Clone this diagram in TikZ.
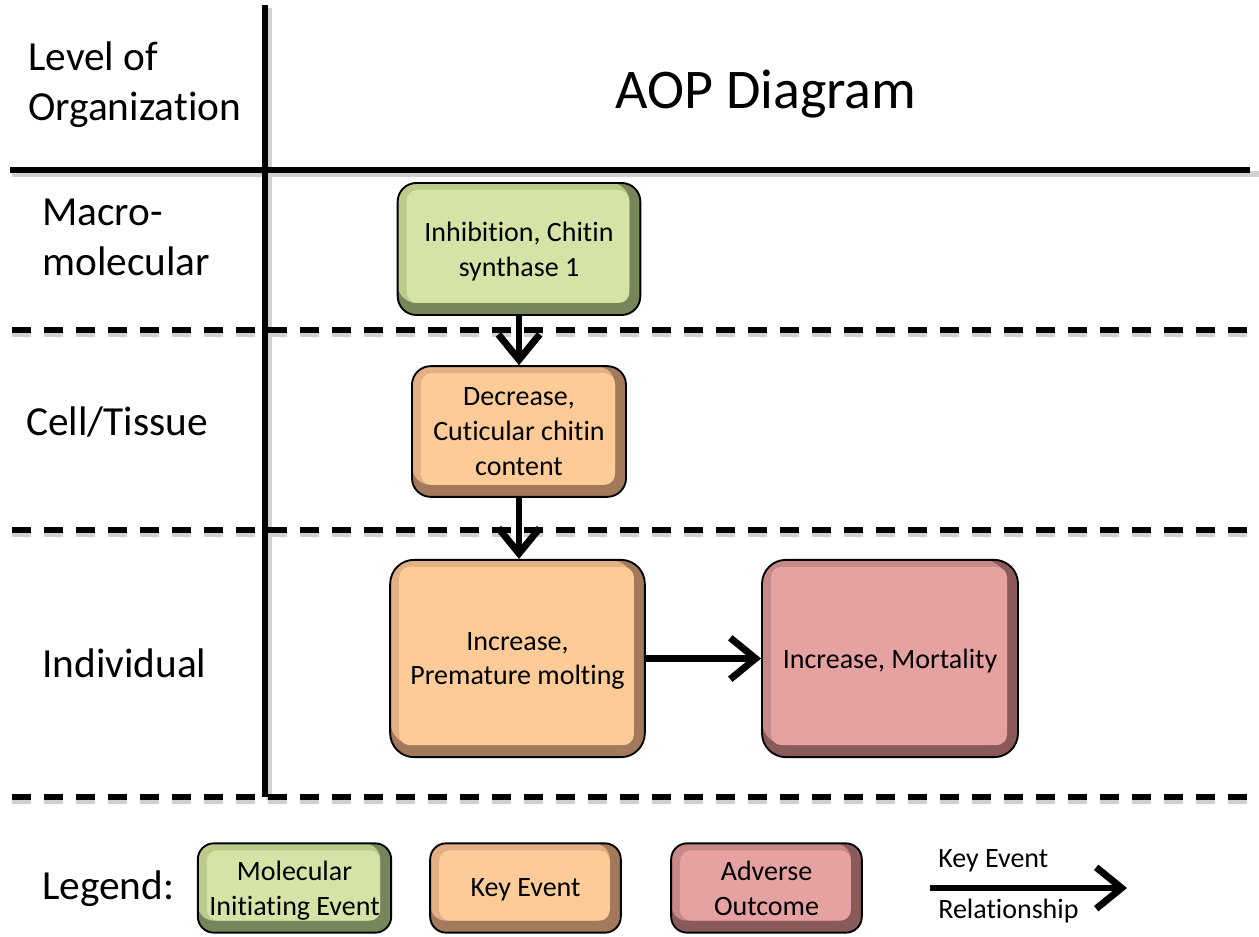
\documentclass[tikz,border=0pt]{standalone}
\usepackage{fontspec}
\setmainfont{Carlito}[Ligatures=NoCommon]
\usetikzlibrary{arrows.meta}
\definecolor{gmain}{HTML}{D6E3A7}
\definecolor{gleft}{HTML}{BCCB8C}
\definecolor{gdark}{HTML}{76855A}
\definecolor{omain}{HTML}{FCCB98}
\definecolor{oleft}{HTML}{E2B084}
\definecolor{odark}{HTML}{A27A5B}
\definecolor{pmain}{HTML}{E6A1A1}
\definecolor{pleft}{HTML}{C78888}
\definecolor{pdark}{HTML}{8A5A5A}
\tikzset{
  evt/.style n args={3}{draw=black, line width=1.4pt, fill=#3, rounded corners=14pt,
    align=center, inner sep=0pt, text depth=0pt, font=\fontsize{21}{26}\selectfont,
    path picture={
      \fill[#2] (path picture bounding box.north west) rectangle ([shift={(-11,-12)}]path picture bounding box.south east);
      \fill[#1, rounded corners=8pt] ([shift={(9,7)}]path picture bounding box.north west) rectangle ([shift={(-11,-12)}]path picture bounding box.south east);
    }},
  mie/.style={evt={gmain}{gleft}{gdark}},
  kev/.style={evt={omain}{oleft}{odark}},
  aov/.style={evt={pmain}{pleft}{pdark}},
  lvl/.style={anchor=west, align=left, inner sep=0pt, font=\fontsize{31}{37.5}\selectfont},
  solidline/.style={line width=4.8pt},
  dashline/.style={line width=4pt, dash pattern=on 14.5pt off 9.5pt},
  shadowline/.style={line width=4.8pt, black!18},
  rel/.style={line width=5.2pt, -{Straight Barb[length=19pt,width=31pt,line width=5.2pt]}},
  small/.style={anchor=west, inner sep=0pt, font=\fontsize{21}{24.75}\selectfont}
}
\begin{document}
\begin{tikzpicture}[x=0.75pt,y=-0.75pt]
\useasboundingbox (0,0) rectangle (1259,937);
% grid shadows
\draw[shadowline] (12,174) -- (1259,174);
\draw[shadowline] (269,8) -- (269,800);
\draw[shadowline, dash pattern=on 14.5pt off 9.5pt] (12,334) -- (1259,334);
\draw[shadowline, dash pattern=on 14.5pt off 9.5pt] (12,534) -- (1259,534);
\draw[shadowline, dash pattern=on 14.5pt off 9.5pt] (12,801) -- (1259,801);
% grid
\draw[solidline] (10,170) -- (1250,170);
\draw[solidline] (265,5) -- (265,797);
\draw[dashline] (12,330) -- (1259,330);
\draw[dashline] (12,530) -- (1259,530);
\draw[dashline] (12,797) -- (1259,797);
% labels
\node[lvl] (lvorg) at (28,85) {Level of\\Organization};
\node[font=\fontsize{42}{50}\selectfont, inner sep=0pt] (title) at (766,94) {AOP Diagram};
\node[lvl] (macro) at (42,237) {Macro-\\molecular};
\node[lvl] (cell) at (26,422) {Cell/Tissue};
\node[lvl] (indiv) at (42,663) {Individual};
\node[lvl] (legend) at (42,889) {Legend:};
% event boxes
\node[mie, minimum width=182pt, minimum height=99pt] (m1) at (519,249) {Inhibition, Chitin\\synthase 1};
\node[kev, minimum width=160.5pt, minimum height=98pt] (k1) at (519,431.5) {Decrease,\\Cuticular chitin\\content};
\node[kev, minimum width=191pt, minimum height=148pt, rounded corners=18pt] (k2) at (517.5,658.5) {Increase,\\Premature molting};
\node[aov, minimum width=192pt, minimum height=148pt, rounded corners=18pt] (a1) at (890,658.5) {Increase, Mortality};
% relationships
\draw[rel] (m1.south) -- (k1.north);
\draw[rel] (k1.south) -- (k1.south |- k2.north);
\draw[rel] (k2.east) -- (a1.west);
% legend
\node[mie, minimum width=145pt, minimum height=67pt, rounded corners=12pt] (lm) at (294.5,888) {Molecular\\Initiating Event};
\node[kev, minimum width=143pt, minimum height=67pt, rounded corners=12pt] (lk) at (525.5,888) {Key Event};
\node[aov, minimum width=143pt, minimum height=67pt, rounded corners=12pt] (la) at (766.5,888) {Adverse\\Outcome};
\coordinate (ls) at (930,888);
\coordinate (le) at (1127,888);
\draw[rel] (ls) -- (le);
\node[small] (lkt) at (938,861) {Key Event};
\node[small] (lrt) at (938,911) {Relationship};
\end{tikzpicture}
\end{document}
